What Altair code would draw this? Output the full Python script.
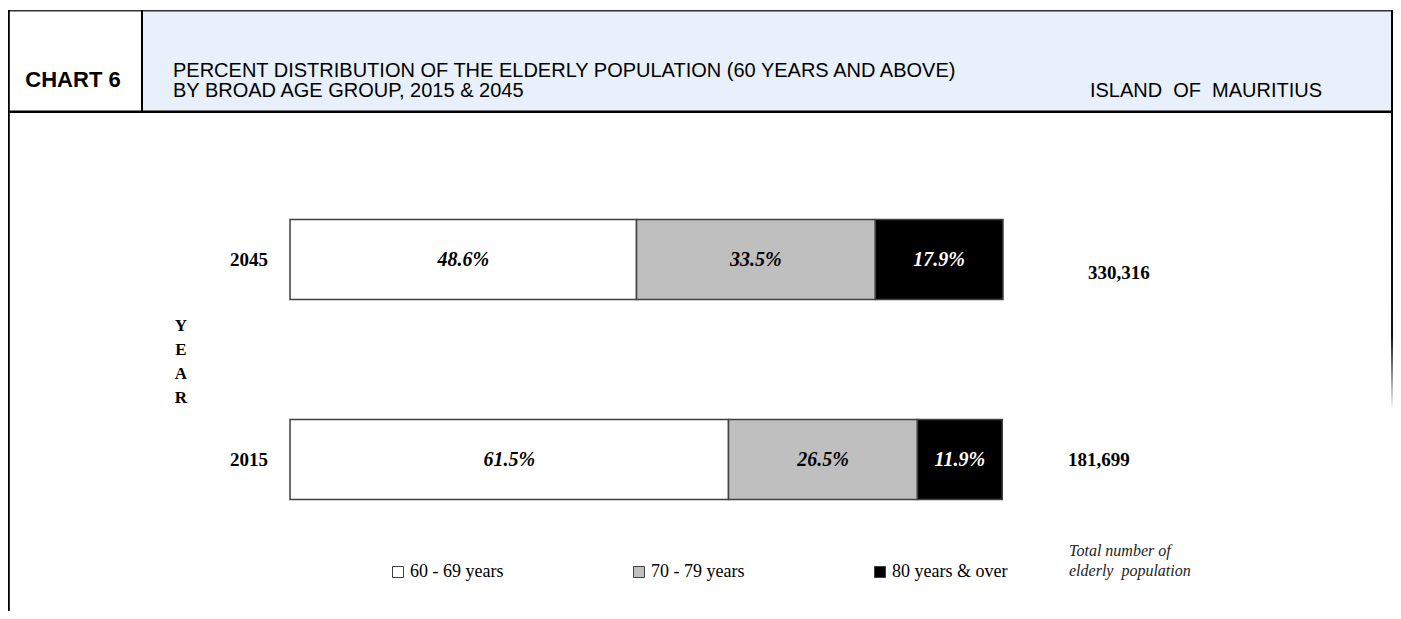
import altair as alt
import pandas as pd

# ---------------- data ----------------
years = ["2045", "2015"]
groups = ["60 - 69 years", "70 - 79 years", "80 years & over"]
pct_2045 = [48.6, 33.5, 17.9]
pct_2015 = [61.5, 26.5, 11.9]
totals = ["330,316", "181,699"]

fill_colors = ["#ffffff", "#bfbfbf", "#000000"]

chart_tag = "CHART 6"
title_lines = ["PERCENT DISTRIBUTION OF THE ELDERLY POPULATION (60 YEARS AND ABOVE)",
               "BY BROAD AGE GROUP, 2015 & 2045"]
region = "ISLAND\u00a0 OF\u00a0 MAURITIUS"
axis_letters = ["Y", "E", "A", "R"]
note_lines = ["Total number of", "elderly\u00a0 population"]

rows = []
for year, vals in zip(years, [pct_2045, pct_2015]):
    cum = 0.0
    for i, (g, v) in enumerate(zip(groups, vals)):
        rows.append(dict(year=year, group=g, pct=v, order=i,
                         mid=cum + v / 2, label=f"{v:.1f}%"))
        cum += v
df = pd.DataFrame(rows)
df_years = pd.DataFrame({"year": years, "total": totals})

SERIF = "Liberation Serif"
SANS = "Liberation Sans"

W, H = 1385, 603

xscale = alt.Scale(domain=[0, 100], range=[282, 995], nice=False, zero=False)
yscale = alt.Scale(domain=years, range=[151.5, 551.5], paddingInner=0.6, paddingOuter=0.3)

one = pd.DataFrame({"k": [0]})


def box(x, x2, y, y2, fill):
    return alt.Chart(one).mark_rect(fill=fill, strokeWidth=0).encode(
        x=alt.value(x), x2=alt.value(x2), y=alt.value(y), y2=alt.value(y2))


fade = {"gradient": "linear", "x1": 0, "y1": 0, "x2": 0, "y2": 1,
        "stops": [{"offset": 0, "color": "#000000"}, {"offset": 0.75, "color": "#111111"},
                  {"offset": 1, "color": "#ffffff"}]}

frame = [
    box(135, W - 2, 3, 103, "#e8f1fb"),        # header shading
    box(0, W, 2, 3.5, "#333333"),              # header top
    box(0, W, 102.5, 105, "#000000"),          # header bottom
    box(0, 1.8, 2, H, "#000000"),              # left border
    box(133, 135, 2, 104, "#000000"),          # divider
    box(W - 2, W, 2, 104, "#000000"),          # header right
    box(W - 2, W, 104, 402, fade),             # body right (fading)
]

header_txt = [
    alt.Chart(pd.DataFrame({"t": [chart_tag]})).mark_text(
        font=SANS, fontSize=22, fontWeight="bold", align="center", baseline="middle", color="#000"
    ).encode(text="t:N", x=alt.value(65), y=alt.value(72)),
    alt.Chart(pd.DataFrame({"t": ["\n".join(title_lines)]})).mark_text(
        font=SANS, fontSize=20, align="left", baseline="middle", lineBreak="\n",
        lineHeight=20.5, color="#000"
    ).encode(text="t:N", x=alt.value(165), y=alt.value(62.5)),
    alt.Chart(pd.DataFrame({"t": [region]})).mark_text(
        font=SANS, fontSize=20, align="center", baseline="middle", color="#000"
    ).encode(text="t:N", x=alt.value(1198), y=alt.value(83)),
]

# ---------------- bars ----------------
bars = alt.Chart(df).mark_bar(stroke="#404040", strokeWidth=1.5).encode(
    x=alt.X("pct:Q", stack="zero", scale=xscale, axis=None),
    y=alt.Y("year:N", scale=yscale, axis=None),
    color=alt.Color(
        "group:N",
        scale=alt.Scale(domain=groups, range=fill_colors),
        legend=alt.Legend(
            orient="none", legendX=381, legendY=555, direction="horizontal",
            columns=3, gridAlign="all", columnPadding=104, title=None,
            symbolType="square", symbolSize=121, symbolStrokeColor="#404040",
            symbolStrokeWidth=1, labelFont=SERIF, labelFontSize=18,
            labelColor="#000", labelOffset=3, padding=0,
        ),
    ),
    order=alt.Order("order:Q", sort="ascending"),
)

lab_style = dict(font=SERIF, fontSize=20, fontStyle="italic", fontWeight="bold",
                 align="center", baseline="middle")
labels_dark = alt.Chart(df).transform_filter("datum.order < 2").mark_text(
    color="#000", **lab_style).encode(
    x=alt.X("mid:Q", scale=xscale, axis=None),
    y=alt.Y("year:N", scale=yscale, axis=None), text="label:N")
labels_light = alt.Chart(df).transform_filter("datum.order == 2").mark_text(
    color="#fff", **lab_style).encode(
    x=alt.X("mid:Q", scale=xscale, axis=None),
    y=alt.Y("year:N", scale=yscale, axis=None), text="label:N")

year_labels = alt.Chart(df_years).mark_text(
    font=SERIF, fontSize=19, fontWeight="bold", align="right", baseline="middle", color="#000"
).encode(x=alt.value(260), y=alt.Y("year:N", scale=yscale, axis=None), text="year:N")

tot_style = dict(font=SERIF, fontSize=19, fontWeight="bold", align="left",
                 baseline="middle", color="#000")
total_2045 = alt.Chart(df_years).transform_filter("datum.year == '2045'").mark_text(
    dy=13, **tot_style).encode(x=alt.value(1080), y=alt.Y("year:N", scale=yscale, axis=None),
                              text="total:N")
total_2015 = alt.Chart(df_years).transform_filter("datum.year == '2015'").mark_text(
    **tot_style).encode(x=alt.value(1060), y=alt.Y("year:N", scale=yscale, axis=None),
                        text="total:N")

year_axis = alt.Chart(pd.DataFrame({"t": ["\n".join(axis_letters)]})).mark_text(
    font=SERIF, fontSize=17, fontWeight="bold", align="center", baseline="middle",
    lineBreak="\n", lineHeight=24, color="#000"
).encode(text="t:N", x=alt.value(173), y=alt.value(318))

note = alt.Chart(pd.DataFrame({"t": ["\n".join(note_lines)]})).mark_text(
    font=SERIF, fontSize=16, fontStyle="italic", align="left", baseline="middle",
    lineBreak="\n", lineHeight=20, color="#222"
).encode(text="t:N", x=alt.value(1061), y=alt.value(543))

chart = alt.layer(
    *frame, *header_txt, bars, labels_dark, labels_light, year_labels,
    total_2045, total_2015, year_axis, note
).properties(
    width=W, height=H,
    autosize=alt.AutoSizeParams(type="fit", contains="padding"),
    padding=0, background="#ffffff",
).configure_view(stroke=None)

chart.save("out.html", embed_options={"renderer": "svg", "actions": False})
